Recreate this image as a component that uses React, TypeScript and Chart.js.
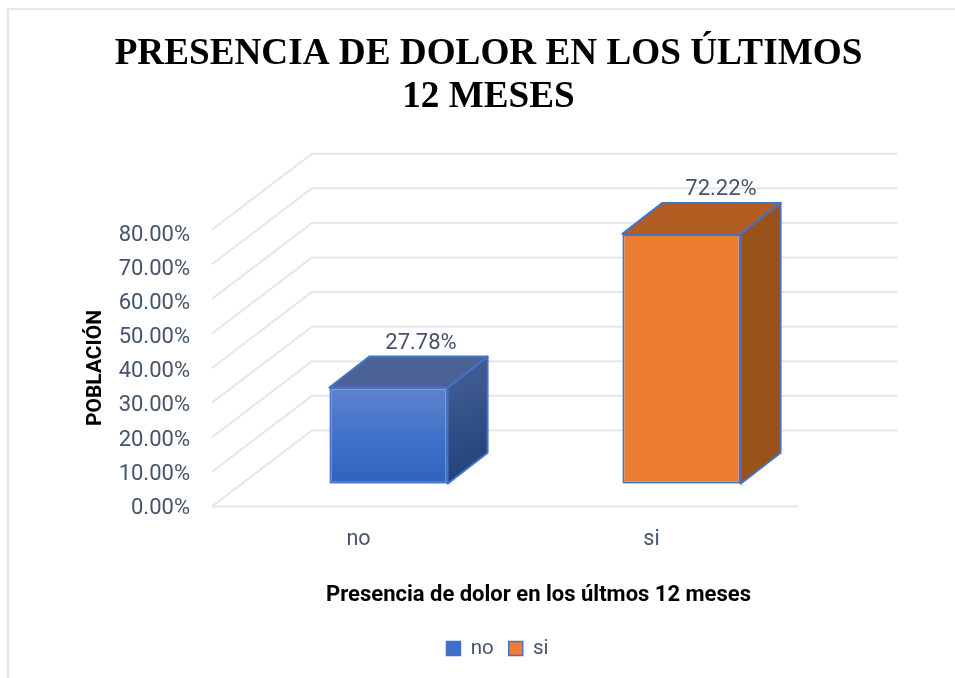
import React, { useEffect, useRef } from "react";
import { Chart, registerables } from "chart.js";

Chart.register(...registerables);

const categories = ["no", "si"];
const values = [27.78, 72.22];
const valueLabels = ["27.78%", "72.22%"];
const titleLines = ["PRESENCIA DE DOLOR EN LOS ÚLTIMOS", "12 MESES"];
const xTitle = "Presencia de dolor en los últmos 12 meses";
const yTitle = "POBLACIÓN";

const SANS = "Roboto, sans-serif";
const TEXT = "#44546A";
const GRID = "#E3E6EC";
const EDGE = "#4472C4";

// wall depth, bar offset from the front plane, bar depth
const WALL = { dx: 100, dy: 76 };
const SHIFT = { dx: 30, dy: -22.7 };
const DEPTH = { dx: 40, dy: 31 };
const LABEL_DX = [32.5, 39.5];
const LABEL_DY = 13.5;

const poly = (ctx: CanvasRenderingContext2D, pts: number[][], fill: any) => {
  ctx.beginPath();
  pts.forEach(([x, y], i) => (i ? ctx.lineTo(x, y) : ctx.moveTo(x, y)));
  ctx.closePath();
  ctx.fillStyle = fill;
  ctx.fill();
  ctx.strokeStyle = EDGE;
  ctx.lineWidth = 2;
  ctx.lineJoin = "round";
  ctx.stroke();
};

const scene3d = {
  id: "scene3d",
  afterLayout(chart: any) {
    const t = chart.titleBlock;
    t.left += 89.5;
    t.right += 89.5;
    const l = chart.legend;
    l.left += 98.5;
    l.right += 98.5;
  },
  beforeDraw(chart: any) {
    const ctx = chart.ctx;
    ctx.save();
    ctx.strokeStyle = GRID;
    ctx.lineWidth = 2;
    ctx.beginPath();
    ctx.moveTo(8, 678);
    ctx.lineTo(8, 9);
    ctx.lineTo(955, 9);
    ctx.stroke();
    ctx.restore();
    // the value labels sit slightly below their grid lines in the reference
    chart.scales.y.getLabelItems().forEach((item: any, i: number) => {
      item.options.translation[1] += 2 + 0.45 * i;
    });
  },
  beforeDatasetsDraw(chart: any) {
    const ctx = chart.ctx;
    const { left, right } = chart.chartArea;
    const y = chart.scales.y;
    ctx.save();
    ctx.strokeStyle = GRID;
    ctx.lineWidth = 2;
    y.ticks.forEach((tick: any) => {
      const py = y.getPixelForValue(tick.value);
      ctx.beginPath();
      ctx.moveTo(left, py);
      ctx.lineTo(left + WALL.dx, py - WALL.dy);
      ctx.lineTo(right + WALL.dx - 1, py - WALL.dy);
      ctx.stroke();
      if (tick.value === 0) {
        ctx.beginPath();
        ctx.moveTo(left, py);
        ctx.lineTo(right, py);
        ctx.stroke();
      }
    });
    ctx.restore();
    ctx.save();
    ctx.translate(SHIFT.dx, SHIFT.dy);
  },
  afterDatasetsDraw(chart: any) {
    const ctx = chart.ctx;
    const bars = chart.getDatasetMeta(0).data;
    const tops = ["#4B6296", "#B25E22"];
    bars.forEach((bar: any, i: number) => {
      const { x, y, base, width } = bar.getProps(["x", "y", "base", "width"], true);
      const l = x - width / 2;
      const r = x + width / 2;
      let side: any = "#995219";
      if (i === 0) {
        side = ctx.createLinearGradient(r, y, r + DEPTH.dx, base);
        side.addColorStop(0, "#3F5A90");
        side.addColorStop(1, "#1D3F78");
      }
      poly(ctx, [[r, y], [r + DEPTH.dx, y - DEPTH.dy], [r + DEPTH.dx, base - DEPTH.dy], [r, base]], side);
      poly(ctx, [[l, y], [l + DEPTH.dx, y - DEPTH.dy], [r + DEPTH.dx, y - DEPTH.dy], [r, y]], tops[i]);
    });
    ctx.restore();

    ctx.save();
    ctx.fillStyle = TEXT;
    ctx.font = `22px ${SANS}`;
    ctx.textAlign = "center";
    ctx.textBaseline = "middle";
    bars.forEach((bar: any, i: number) => {
      ctx.fillText(valueLabels[i], bar.x + SHIFT.dx + LABEL_DX[i], bar.y + SHIFT.dy - DEPTH.dy - LABEL_DY);
    });
    ctx.fillStyle = "#000";
    ctx.font = `bold 22px ${SANS}`;
    ctx.fillText(xTitle, 538.5, 595);
    ctx.restore();
  },
};

export default function App() {
  const ref = useRef<HTMLCanvasElement>(null);
  useEffect(() => {
    document.body.style.margin = "0";
    document.body.style.background = "#fff";
    const chart = new Chart(ref.current!, {
      type: "bar",
      data: {
        labels: categories,
        datasets: [
          {
            data: values,
            barPercentage: 0.8,
            categoryPercentage: 0.504,
            borderWidth: 2,
            borderColor: EDGE,
            borderSkipped: false,
            backgroundColor: (c: any) => {
              if (c.dataIndex === 1) return "#ED7D31";
              const y = c.chart.scales?.y;
              if (!y || c.raw === undefined) return "#3D70C9";
              const g = c.chart.ctx.createLinearGradient(0, y.getPixelForValue(c.raw), 0, y.getPixelForValue(0));
              g.addColorStop(0, "#5F82CC");
              g.addColorStop(0.55, "#3E71C9");
              g.addColorStop(1, "#2F62BC");
              return g;
            },
          },
        ],
      },
      options: {
        responsive: false,
        animation: false,
        layout: { padding: { left: 0, right: 157, top: 0, bottom: 9.25 } },
        plugins: {
          tooltip: { enabled: false },
          title: {
            display: true,
            text: titleLines,
            color: "#000",
            font: { family: "'Liberation Serif', serif", weight: "bold", size: 37.2, lineHeight: 1.156 },
            padding: { top: 32.5, bottom: 111.2 },
          },
          legend: {
            display: true,
            position: "bottom",
            labels: {
              boxWidth: 14,
              boxHeight: 14,
              padding: 15,
              color: TEXT,
              font: { family: SANS, size: 20.5 },
              generateLabels: () =>
                categories.map((text, i) => ({
                  text,
                  fillStyle: ["#3D6FC8", "#ED7D31"][i],
                  strokeStyle: EDGE,
                  lineWidth: 1.5,
                  fontColor: TEXT,
                  index: i,
                })),
            },
          },
        },
        scales: {
          x: {
            grid: { display: false },
            border: { display: false },
            ticks: {
              color: TEXT,
              padding: 12,
              maxRotation: 0,
              font: { family: SANS, size: 21.5 },
            },
            afterFit: (s: any) => {
              s.height = 116.85;
            },
          },
          y: {
            min: 0,
            max: 80,
            grid: { display: false },
            border: { display: false },
            title: {
              display: true,
              text: yTitle,
              color: "#000",
              font: { family: SANS, size: 21, weight: "bold" },
              padding: { top: 83.5, bottom: 0 },
            },
            ticks: {
              stepSize: 10,
              color: TEXT,
              padding: 14,
              font: { family: SANS, size: 22 },
              callback: (v: any) => `${Number(v).toFixed(2)}%`,
            },
            afterFit: (s: any) => {
              s.width = 212;
            },
          },
        },
      },
      plugins: [scene3d],
    } as any);
    return () => chart.destroy();
  }, []);
  return <canvas ref={ref} width={955} height={678} style={{ display: "block" }} />;
}
